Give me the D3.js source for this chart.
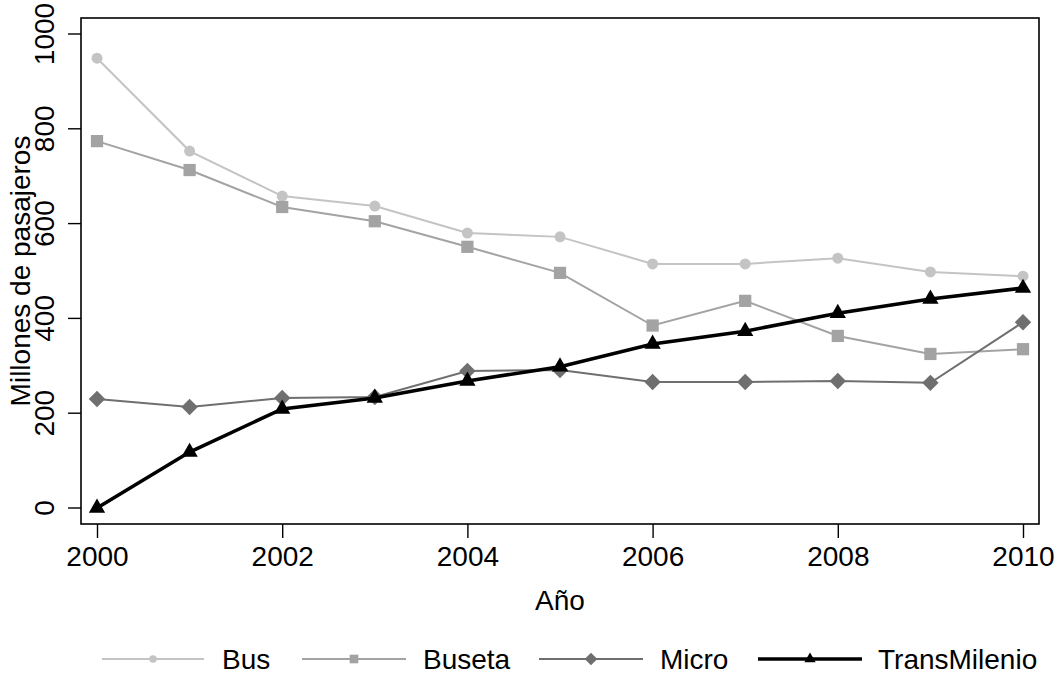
<!DOCTYPE html>
<html><head><meta charset="utf-8">
<script src="https://cdn.jsdelivr.net/npm/d3@7"></script>
<style>body{margin:0;background:#fff}svg{display:block}text{font-family:"Liberation Sans",Arial,sans-serif}</style>
</head><body>
<script>
const years = [2000,2001,2002,2003,2004,2005,2006,2007,2008,2009,2010];
const bus = [949,753,658,637,580,572,515,515,527,498,489];
const buseta = [774,713,635,605,551,496,385,437,363,325,335];
const micro = [230,213,232,234,289,291,266,266,268,264,392];
const transmilenio = [0,118,209,232,268,298,346,373,411,441,464];
const yTicks = [0,200,400,600,800,1000];
const xTicks = [2000,2002,2004,2006,2008,2010];
const seriesNames = ["Bus","Buseta","Micro","TransMilenio"];

const W=1057,H=676;
const svg=d3.select("body").append("svg").attr("width",W).attr("height",H);
const x=d3.scaleLinear().domain([2000,2010]).range([97,1023]);
const y=d3.scaleLinear().domain([0,1000]).range([508,34]);
const fs=28;

// frame
svg.append("rect").attr("x",81).attr("y",18).attr("width",1039-81).attr("height",524-18)
  .attr("fill","none").attr("stroke","#000").attr("stroke-width",1.6);

// y axis
const ya=svg.append("g").attr("transform","translate(81,0)")
  .call(d3.axisLeft(y).tickValues(yTicks).tickSize(13).tickFormat(d3.format("d")));
ya.select(".domain").remove();
ya.selectAll("line").attr("stroke","#000").attr("stroke-width",1.4);
ya.selectAll("text").attr("font-size",fs).attr("fill","#000")
  .attr("transform",d=>`rotate(-90,${-37},${y(d)})`)
  .attr("x",-37).attr("y",d=>y(d)).attr("dy","0.35em").attr("text-anchor","middle")
  .attr("font-family","Liberation Sans, Arial, sans-serif");
ya.selectAll(".tick").attr("transform",null);
ya.selectAll(".tick line").attr("y1",d=>y(d)).attr("y2",d=>y(d));

// x axis
const xa=svg.append("g").attr("transform","translate(0,524)")
  .call(d3.axisBottom(x).tickValues(xTicks).tickSize(14).tickFormat(d3.format("d")));
xa.select(".domain").remove();
xa.selectAll("line").attr("stroke","#000").attr("stroke-width",1.4);
xa.selectAll("text").attr("font-size",fs).attr("fill","#000").attr("y",22)
  .attr("font-family","Liberation Sans, Arial, sans-serif");

// titles
svg.append("text").attr("x",560).attr("y",610).attr("text-anchor","middle").attr("font-size",fs).text("Año");
svg.append("text").attr("transform","translate(30,271) rotate(-90)").attr("text-anchor","middle").attr("font-size",fs).text("Millones de pasajeros");

const series=[
 {name:seriesNames[0],vals:bus,color:"#c4c4c4",w:2,shape:"circle"},
 {name:seriesNames[1],vals:buseta,color:"#a3a3a3",w:2,shape:"square"},
 {name:seriesNames[2],vals:micro,color:"#6f6f6f",w:2,shape:"diamond"},
 {name:seriesNames[3],vals:transmilenio,color:"#000",w:3.6,shape:"triangle"}
];
const symType={circle:d3.symbolCircle,square:d3.symbolSquare,diamond:d3.symbolSquare,triangle:d3.symbolTriangle};
const symRot={circle:0,square:0,diamond:45,triangle:0};
const symSize={circle:95,square:150,diamond:135,triangle:115};
const line=d3.line().x((d,i)=>x(years[i])).y(d=>y(d));

series.forEach(s=>{
  svg.append("path").attr("d",line(s.vals)).attr("fill","none").attr("stroke",s.color).attr("stroke-width",s.w);
  svg.append("g").selectAll("path").data(s.vals).join("path")
    .attr("transform",(d,i)=>`translate(${x(years[i])},${y(d)}) rotate(${symRot[s.shape]})`)
    .attr("d",d3.symbol(symType[s.shape],symSize[s.shape])).attr("fill",s.color);
});

// legend
const leg=[{x0:102,x1:204,tx:222},{x0:302,x1:406,tx:423},{x0:539,x1:643,tx:660},{x0:758,x1:862,tx:878}];
const legSize={circle:45,square:75,diamond:80,triangle:55};
series.forEach((s,i)=>{
  const L=leg[i];
  svg.append("line").attr("x1",L.x0).attr("x2",L.x1).attr("y1",659).attr("y2",659).attr("stroke",s.color).attr("stroke-width",s.w);
  svg.append("path").attr("transform",`translate(${(L.x0+L.x1)/2},659) rotate(${symRot[s.shape]})`).attr("d",d3.symbol(symType[s.shape],legSize[s.shape])).attr("fill",s.color);
  svg.append("text").attr("x",L.tx).attr("y",669).attr("font-size",fs).text(s.name);
});
</script>
</body></html>
